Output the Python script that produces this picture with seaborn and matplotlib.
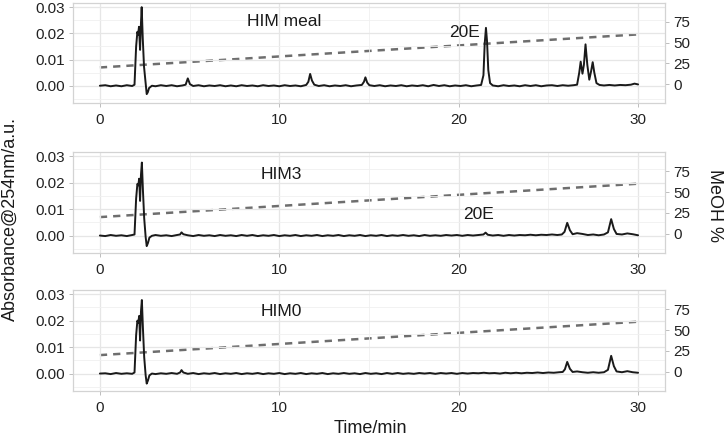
import matplotlib
matplotlib.use("Agg")
import matplotlib.pyplot as plt
import seaborn as sns
import pandas as pd

# cromatogramas: (tiempo en min, absorbancia a 254 nm)
meal_trace = [
    (0.0, 0.0000), (0.3, 0.0002), (0.6, -0.0002), (0.9, 0.0001), (1.2, -0.0002), (1.5, 0.0002),
    (1.8, -0.0001), (1.93, 0.0004), (2.02, 0.0150), (2.09, 0.0206), (2.13, 0.0195), (2.18, 0.0225),
    (2.24, 0.0137), (2.29, 0.0240), (2.33, 0.0300), (2.39, 0.0180), (2.46, 0.0073), (2.56, 0.0000),
    (2.61, -0.0032), (2.67, -0.0025), (2.74, -0.0009), (2.9, 0.0000), (3.1, -0.0002), (3.4, 0.0002),
    (3.7, -0.0001), (4.0, 0.0002), (4.3, -0.0002), (4.6, 0.0001), (4.78, 0.0004), (4.9, 0.0028),
    (5.02, 0.0006), (5.2, -0.0001), (5.5, 0.0002), (5.8, -0.0002), (6.1, 0.0001), (6.4, -0.0001),
    (6.7, 0.0002), (7.0, -0.0002), (7.3, 0.0001), (7.6, -0.0002), (7.9, 0.0002), (8.2, -0.0001),
    (8.5, 0.0001), (8.8, -0.0002), (9.1, 0.0002), (9.4, -0.0001), (9.7, 0.0001), (10.0, -0.0002),
    (10.3, 0.0002), (10.6, -0.0001), (10.9, 0.0001), (11.2, -0.0002), (11.5, 0.0003), (11.62, 0.0015),
    (11.72, 0.0045), (11.82, 0.0020), (11.95, 0.0004), (12.2, -0.0001), (12.5, 0.0002), (12.8, -0.0002),
    (13.1, 0.0001), (13.4, -0.0001), (13.7, 0.0002), (14.0, -0.0002), (14.3, 0.0001), (14.6, 0.0003),
    (14.72, 0.0015), (14.8, 0.0032), (14.9, 0.0012), (15.02, 0.0002), (15.3, -0.0001), (15.6, 0.0002),
    (15.9, -0.0002), (16.2, 0.0001), (16.5, -0.0001), (16.8, 0.0002), (17.1, -0.0002), (17.4, 0.0001),
    (17.7, -0.0001), (18.0, 0.0002), (18.3, -0.0002), (18.6, 0.0003), (18.9, -0.0001), (19.2, 0.0002),
    (19.5, -0.0002), (19.8, 0.0001), (20.1, -0.0001), (20.4, 0.0002), (20.7, -0.0002), (21.0, 0.0001),
    (21.25, 0.0003), (21.38, 0.0040), (21.45, 0.0160), (21.52, 0.0221), (21.58, 0.0170), (21.65, 0.0060),
    (21.75, 0.0010), (21.9, 0.0001), (22.2, -0.0002), (22.5, 0.0002), (22.8, -0.0001), (23.1, 0.0001),
    (23.4, -0.0002), (23.7, 0.0002), (24.0, -0.0001), (24.3, 0.0002), (24.6, -0.0002), (24.9, 0.0001),
    (25.2, 0.0002), (25.5, -0.0001), (25.8, 0.0002), (26.1, 0.0000), (26.4, 0.0002), (26.6, 0.0004),
    (26.72, 0.0050), (26.8, 0.0092), (26.9, 0.0046), (26.98, 0.0080), (27.07, 0.0158), (27.17, 0.0080),
    (27.28, 0.0023), (27.38, 0.0055), (27.47, 0.0090), (27.56, 0.0050), (27.68, 0.0010), (27.85, 0.0003),
    (28.1, 0.0001), (28.4, 0.0003), (28.7, 0.0001), (29.0, 0.0003), (29.3, 0.0002), (29.6, 0.0004),
    (29.8, 0.0008), (30.0, 0.0005),
]

him3_trace = [
    (0.0, 0.0000), (0.3, -0.0002), (0.6, 0.0002), (0.9, -0.0001), (1.2, 0.0001), (1.5, -0.0002),
    (1.8, 0.0002), (1.93, 0.0004), (2.02, 0.0140), (2.09, 0.0195), (2.14, 0.0190), (2.19, 0.0215),
    (2.24, 0.0131), (2.29, 0.0230), (2.34, 0.0276), (2.40, 0.0170), (2.47, 0.0065), (2.55, -0.0005),
    (2.61, -0.0040), (2.68, -0.0028), (2.76, -0.0008), (2.9, -0.0001), (3.1, 0.0002), (3.4, -0.0001),
    (3.7, 0.0001), (4.0, -0.0002), (4.3, 0.0002), (4.47, 0.0004), (4.55, 0.0012), (4.65, 0.0005),
    (4.9, 0.0001), (5.2, -0.0002), (5.5, 0.0002), (5.8, -0.0001), (6.1, 0.0001), (6.4, -0.0002),
    (6.7, 0.0002), (7.0, -0.0001), (7.3, 0.0001), (7.6, -0.0002), (7.9, 0.0002), (8.2, -0.0001),
    (8.5, 0.0002), (8.8, -0.0002), (9.1, 0.0001), (9.4, -0.0001), (9.7, 0.0002), (10.0, -0.0002),
    (10.3, 0.0001), (10.6, -0.0001), (10.9, 0.0002), (11.2, -0.0002), (11.5, 0.0001), (11.8, -0.0001),
    (12.1, 0.0002), (12.4, -0.0002), (12.7, 0.0001), (13.0, -0.0001), (13.3, 0.0002), (13.6, -0.0002),
    (13.9, 0.0001), (14.2, -0.0001), (14.5, 0.0002), (14.8, -0.0002), (15.1, 0.0001), (15.4, -0.0001),
    (15.7, 0.0002), (16.0, -0.0002), (16.3, 0.0001), (16.6, -0.0001), (16.9, 0.0002), (17.2, -0.0001),
    (17.5, 0.0001), (17.8, -0.0002), (18.1, 0.0002), (18.4, -0.0001), (18.7, 0.0001), (19.0, -0.0001),
    (19.3, 0.0002), (19.6, 0.0000), (19.9, 0.0002), (20.2, -0.0001), (20.5, 0.0002), (20.8, 0.0000),
    (21.1, 0.0002), (21.38, 0.0004), (21.5, 0.0011), (21.62, 0.0003), (21.9, 0.0000), (22.2, 0.0002),
    (22.5, -0.0001), (22.8, 0.0002), (23.1, 0.0000), (23.4, 0.0002), (23.7, 0.0001), (24.0, 0.0003),
    (24.3, 0.0001), (24.6, 0.0003), (24.9, 0.0002), (25.2, 0.0004), (25.5, 0.0002), (25.75, 0.0004),
    (25.9, 0.0014), (26.05, 0.0048), (26.2, 0.0020), (26.35, 0.0005), (26.6, 0.0009), (26.9, 0.0006),
    (27.2, 0.0002), (27.5, 0.0004), (27.8, 0.0001), (28.1, 0.0004), (28.32, 0.0012), (28.5, 0.0062),
    (28.65, 0.0025), (28.8, 0.0006), (29.1, 0.0004), (29.4, 0.0008), (29.7, 0.0005), (30.0, 0.0001),
]

him0_trace = [
    (0.0, 0.0000), (0.3, 0.0001), (0.6, -0.0002), (0.9, 0.0002), (1.2, -0.0001), (1.5, 0.0001),
    (1.8, -0.0001), (1.93, 0.0004), (2.02, 0.0145), (2.09, 0.0200), (2.14, 0.0192), (2.19, 0.0218),
    (2.24, 0.0125), (2.29, 0.0235), (2.34, 0.0278), (2.40, 0.0170), (2.47, 0.0062), (2.55, -0.0006),
    (2.61, -0.0038), (2.68, -0.0026), (2.76, -0.0007), (2.9, 0.0000), (3.1, -0.0002), (3.4, 0.0001),
    (3.7, -0.0001), (4.0, 0.0002), (4.3, -0.0001), (4.47, 0.0004), (4.55, 0.0013), (4.65, 0.0004),
    (4.9, -0.0001), (5.2, 0.0002), (5.5, -0.0002), (5.8, 0.0001), (6.1, -0.0001), (6.4, 0.0002),
    (6.7, -0.0002), (7.0, 0.0001), (7.3, -0.0001), (7.6, 0.0002), (7.9, -0.0002), (8.2, 0.0001),
    (8.5, -0.0001), (8.8, 0.0002), (9.1, -0.0002), (9.4, 0.0001), (9.7, -0.0001), (10.0, 0.0002),
    (10.3, -0.0002), (10.6, 0.0001), (10.9, -0.0001), (11.2, 0.0002), (11.5, -0.0002), (11.8, 0.0001),
    (12.1, -0.0001), (12.4, 0.0002), (12.7, -0.0002), (13.0, 0.0001), (13.3, -0.0001), (13.6, 0.0002),
    (13.9, -0.0001), (14.2, 0.0001), (14.5, -0.0002), (14.8, 0.0002), (15.1, -0.0001), (15.4, 0.0001),
    (15.7, -0.0002), (16.0, 0.0002), (16.3, -0.0001), (16.6, 0.0002), (16.9, -0.0001), (17.2, 0.0001),
    (17.5, -0.0001), (17.8, 0.0002), (18.1, 0.0000), (18.4, 0.0002), (18.7, -0.0001), (19.0, 0.0002),
    (19.3, 0.0000), (19.6, 0.0002), (19.9, -0.0001), (20.2, 0.0002), (20.5, 0.0000), (20.8, 0.0002),
    (21.1, 0.0001), (21.4, 0.0003), (21.7, 0.0001), (22.0, 0.0002), (22.3, 0.0000), (22.6, 0.0003),
    (22.9, 0.0001), (23.2, 0.0003), (23.5, 0.0001), (23.8, 0.0003), (24.1, 0.0002), (24.4, 0.0004),
    (24.7, 0.0002), (25.0, 0.0004), (25.3, 0.0003), (25.6, 0.0005), (25.8, 0.0006), (25.92, 0.0016),
    (26.05, 0.0044), (26.2, 0.0018), (26.35, 0.0006), (26.6, 0.0008), (26.9, 0.0005), (27.2, 0.0003),
    (27.5, 0.0005), (27.8, 0.0003), (28.1, 0.0005), (28.32, 0.0014), (28.5, 0.0067), (28.65, 0.0028),
    (28.8, 0.0008), (29.1, 0.0005), (29.4, 0.0009), (29.7, 0.0005), (30.0, 0.0003),
]

# gradiente de metanol (%)
gradient_time = [0, 30]
gradient_meoh = [20, 60]

panel_names = ["HIM meal", "HIM3", "HIM0"]
name_pos = [(10.3, 0.0247), (10.1, 0.0229), (10.1, 0.0234)]
label_20e = [(20.3, 0.0205), (21.1, 0.0080), None]

traces = [meal_trace, him3_trace, him0_trace]

sns.set_theme(style="whitegrid")
plt.rcParams['font.family'] = ['Liberation Sans', 'DejaVu Sans']

fig = plt.figure(figsize=(7.24, 4.38), dpi=100)

# posiciones de los paneles (fracciones de figura)
panel_boxes = [(0.7648, 0.2284), (0.4224, 0.2306), (0.1073, 0.2306)]
gradient = pd.DataFrame({'Tiempo': gradient_time, 'MeOH': gradient_meoh})

for i, trace in enumerate(traces):
    bottom, height = panel_boxes[i]
    ax = fig.add_axes([0.1008, bottom, 0.8177, height])
    df = pd.DataFrame(trace, columns=['Tiempo', 'Abs'])

    ax2 = ax.twinx()
    sns.lineplot(data=gradient, x='Tiempo', y='MeOH', ax=ax2, color='#6e6e6e', linewidth=1.8)
    for ln in ax2.get_lines():
        ln.set_linestyle((0, (2.9, 2.4)))
    ax2.set_ylim(-23, 98)
    ax2.set_yticks([0, 25, 50, 75])
    ax2.grid(False)
    ax2.set_ylabel('')

    sns.lineplot(data=df, x='Tiempo', y='Abs', ax=ax, color='#1a1a1a', linewidth=1.4,
                 sort=False, estimator=None)
    ax.set_zorder(ax2.get_zorder() + 1)
    ax.patch.set_visible(False)

    ax.set_xlim(-1.5, 31.5)
    ax.set_ylim(-0.0066, 0.0316)
    ax.set_xticks([0, 10, 20, 30])
    ax.set_xticks([5, 15, 25], minor=True)
    ax.set_yticks([0.0, 0.01, 0.02, 0.03])
    ax.set_yticks([-0.005, 0.005, 0.015, 0.025], minor=True)
    ax.set_yticklabels(['0.00', '0.01', '0.02', '0.03'])
    ax.grid(which='major', color='#e6e6e6', linewidth=0.9)
    ax.grid(which='minor', color='#f0f0f0', linewidth=0.6)
    ax.set_xlabel('')
    ax.set_ylabel('')

    for a in (ax, ax2):
        a.tick_params(which='major', length=3, width=0.6, color='#b3b3b3',
                      labelsize=11, labelcolor='#222222', pad=3)
        a.tick_params(which='minor', length=0)
        for s in a.spines.values():
            s.set_color('#d3d3d3')
            s.set_linewidth(0.8)
    ax.tick_params(axis='x', bottom=True, pad=4)

    x, y = name_pos[i]
    ax.text(x, y, panel_names[i], ha='center', va='center', fontsize=12.5, color='#1a1a1a')
    if label_20e[i] is not None:
        x, y = label_20e[i]
        ax.text(x, y, '20E', ha='center', va='center', fontsize=12.5, color='#1a1a1a')

fig.text(0.014, 0.50, 'Absorbance@254nm/a.u.', rotation=90, ha='center', va='center',
         fontsize=13, color='#1a1a1a')
fig.text(0.987, 0.53, 'MeOH %', rotation=270, ha='center', va='center',
         fontsize=13, color='#1a1a1a')
fig.text(0.511, 0.022, 'Time/min', ha='center', va='center', fontsize=13, color='#1a1a1a')

plt.savefig('out.png', dpi=100)
